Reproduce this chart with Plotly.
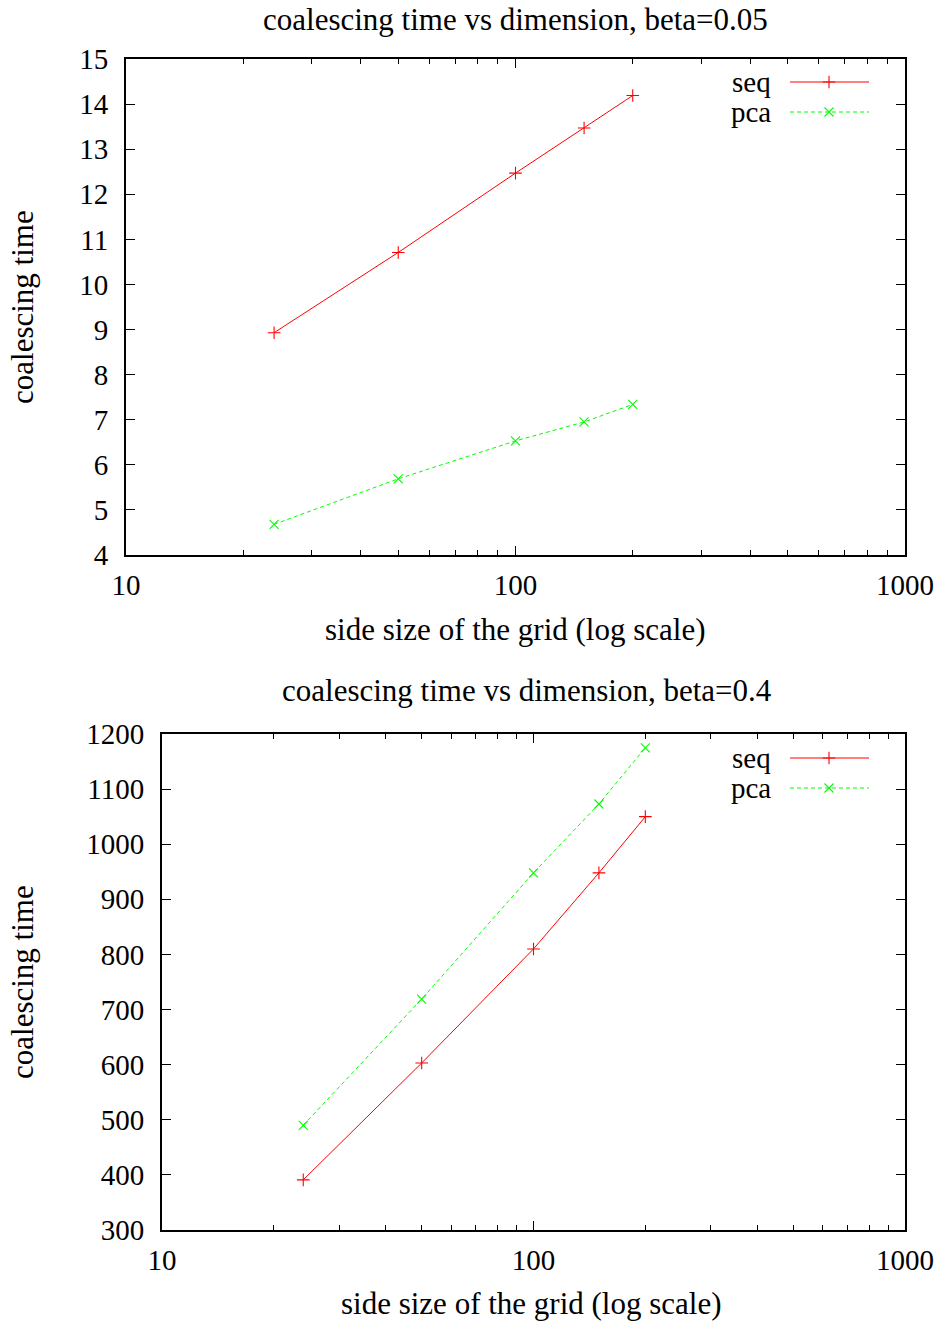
import plotly.graph_objects as go

# grid side sizes (x) shared by both panels
side = [24, 50, 100, 150, 200]

# beta = 0.05
seq_b005 = [8.93, 10.71, 12.47, 13.47, 14.19]
pca_b005 = [4.68, 5.69, 6.53, 6.95, 7.34]

# beta = 0.4
seq_b04 = [391, 603, 810, 948, 1050]
pca_b04 = [490, 719, 948, 1073, 1175]

x_major = [10, 100, 1000]
x_minor = [20, 30, 40, 50, 60, 70, 80, 90, 200, 300, 400, 500, 600, 700, 800, 900]

W, H = 941, 1322
FONT = "Liberation Serif"
RED = "#ff0000"
GREEN = "#00ff00"

fig = go.Figure()


def px_x(v):
    return v / W


def px_y(v):
    return 1 - v / H


def add_series(x, y, color, symbol, dash, xa, ya):
    fig.add_trace(go.Scatter(
        x=x, y=y, mode="lines+markers", xaxis=xa, yaxis=ya,
        line=dict(color=color, width=1, dash=dash),
        marker=dict(symbol=symbol, size=9, color=color,
                    line=dict(color=color, width=1.1)),
        showlegend=False, hoverinfo="skip"))


add_series(side, seq_b005, RED, "cross-thin", "solid", "x", "y")
add_series(side, pca_b005, GREEN, "x-thin", "4px,3px", "x", "y")
add_series(side, seq_b04, RED, "cross-thin", "solid", "x2", "y2")
add_series(side, pca_b04, GREEN, "x-thin", "4px,3px", "x2", "y2")

# key samples, drawn on a full-page overlay axis in pixel units
key_rows = [(82, "seq", RED, "cross-thin", "solid"),
            (112, "pca", GREEN, "x-thin", "4px,3px"),
            (758, "seq", RED, "cross-thin", "solid"),
            (788, "pca", GREEN, "x-thin", "4px,3px")]
for yk, name, color, symbol, dash in key_rows:
    fig.add_trace(go.Scatter(
        x=[790, 869], y=[yk, yk], mode="lines", xaxis="x3", yaxis="y3",
        line=dict(color=color, width=1, dash=dash),
        showlegend=False, hoverinfo="skip"))
    fig.add_trace(go.Scatter(
        x=[829], y=[yk], mode="markers", xaxis="x3", yaxis="y3",
        marker=dict(symbol=symbol, size=9, color=color,
                    line=dict(color=color, width=1.1)),
        showlegend=False, hoverinfo="skip"))

xcommon = dict(
    type="log", range=[1, 3], tickmode="array", tickvals=x_major,
    ticktext=[str(v) for v in x_major],
    ticks="inside", ticklen=9, tickwidth=1.2, tickcolor="black",
    minor=dict(tickmode="array", tickvals=x_minor, ticks="inside",
               ticklen=5, tickwidth=1.2, tickcolor="black", showgrid=False),
    showline=True, linecolor="black", linewidth=2, mirror="ticks",
    showgrid=False, zeroline=False, automargin=False, ticklabelstandoff=3,
    tickfont=dict(family=FONT, size=29, color="black"))

ycommon = dict(
    ticks="inside", ticklen=9, tickwidth=1.2, tickcolor="black",
    showline=True, linecolor="black", linewidth=2, mirror="ticks",
    showgrid=False, zeroline=False, automargin=False, ticklabelstandoff=10,
    tickfont=dict(family=FONT, size=29, color="black"))

fig.update_layout(
    width=W, height=H, margin=dict(l=0, r=0, t=0, b=0, pad=0),
    paper_bgcolor="white", plot_bgcolor="rgba(0,0,0,0)", showlegend=False,
    xaxis=dict(domain=[px_x(126), px_x(905)], anchor="y", **xcommon),
    yaxis=dict(domain=[px_y(555), px_y(59)], anchor="x", range=[4, 15],
               dtick=1, tick0=0, **ycommon),
    xaxis2=dict(domain=[px_x(162), px_x(905)], anchor="y2", **xcommon),
    yaxis2=dict(domain=[px_y(1230), px_y(734)], anchor="x2",
                range=[300, 1200], dtick=100, tick0=0, **ycommon),
    xaxis3=dict(domain=[0, 1], range=[0, W], visible=False, anchor="y3",
                fixedrange=True, automargin=False),
    yaxis3=dict(domain=[0, 1], range=[H, 0], visible=False, anchor="x3",
                fixedrange=True, automargin=False),
)

text_font = dict(family=FONT, size=31, color="black")
annotations = [
    dict(text="coalescing time vs dimension, beta=0.05", x=px_x(515), y=px_y(0),
         yanchor="top"),
    dict(text="side size of the grid (log scale)", x=px_x(515), y=px_y(629)),
    dict(text="coalescing time", x=px_x(22), y=px_y(307), textangle=-90),
    dict(text="coalescing time vs dimension, beta=0.4", x=px_x(527), y=px_y(690)),
    dict(text="side size of the grid (log scale)", x=px_x(531), y=px_y(1303)),
    dict(text="coalescing time", x=px_x(22), y=px_y(982), textangle=-90),
]
for a in annotations:
    a.setdefault("yanchor", "middle")
    a.update(xref="paper", yref="paper", showarrow=False,
             xanchor="center", font=text_font)
for yk, name, *_ in key_rows:
    annotations.append(dict(text=name, x=px_x(773), y=px_y(yk), xref="paper",
                            yref="paper", showarrow=False, xanchor="right",
                            yanchor="middle", font=dict(family=FONT, size=29,
                                                        color="black")))
fig.update_layout(annotations=annotations)

fig.write_html("out.html")
